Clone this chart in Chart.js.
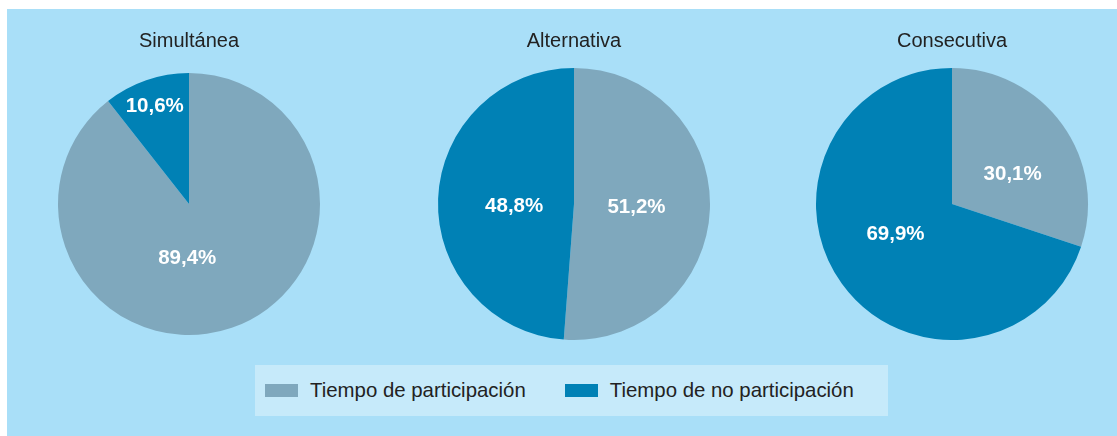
<!DOCTYPE html>
<html lang="es">
<head>
<meta charset="utf-8">
<script src="https://cdn.jsdelivr.net/npm/chart.js@4.4.1/dist/chart.umd.min.js"></script>
<style>
  body { margin: 0; width: 1117px; height: 436px; background: #fff; position: relative; overflow: hidden; font-family: "Liberation Sans", Arial, sans-serif; }
  #panel { position: absolute; left: 7px; top: 9px; width: 1110px; height: 427px; background: #a9dff8; }
  .pie { position: absolute; top: 20px; width: 300px; height: 320px; }
  #legend { position: absolute; left: 255px; top: 365px; width: 633px; height: 51px; background: #c6eafa;
            display: flex; align-items: center; font-size: 20.4px; color: #222; }
  .item { display: flex; align-items: center; }
  .swatch { width: 33px; height: 13px; margin-right: 12px; }
</style>
</head>
<body>
<div id="panel"></div>
<div class="pie" style="left:39px"><canvas id="pie0" width="300" height="320"></canvas></div>
<div class="pie" style="left:424px"><canvas id="pie1" width="300" height="320"></canvas></div>
<div class="pie" style="left:802px"><canvas id="pie2" width="300" height="320"></canvas></div>
<div id="legend"></div>
<script>
// data
const chartTitles = ['Simultánea', 'Alternativa', 'Consecutiva'];
const seriesLabels = ['Tiempo de participación', 'Tiempo de no participación'];
const simultaneaValues = [89.4, 10.6];
const alternativaValues = [51.2, 48.8];
const consecutivaValues = [30.1, 69.9];

const sliceColors = ['#7fa8bd', '#0081b5'];

// where each value label sits: fraction of radius, extra turn (degrees) from mid angle
const labelSpots = [
    [{ f: 0.41, turn: 21 }, { f: 0.80, turn: 0 }],
    [{ f: 0.46, turn: 0 }, { f: 0.44, turn: -3 }],
    [{ f: 0.50, turn: 9 }, { f: 0.47, turn: 8 }]
];

const fmt = v => v.toFixed(1).replace('.', ',') + '%';

const valueLabels = {
    id: 'valueLabels',
    afterDatasetsDraw(chart, args, opts) {
        const ctx = chart.ctx;
        const meta = chart.getDatasetMeta(0);
        const values = chart.data.datasets[0].data;
        ctx.save();
        ctx.fillStyle = '#fff';
        ctx.font = 'bold 20.5px "Liberation Sans", Arial, sans-serif';
        ctx.textAlign = 'center';
        ctx.textBaseline = 'middle';
        meta.data.forEach((arc, i) => {
            const p = arc.getProps(['x', 'y', 'startAngle', 'endAngle', 'outerRadius'], true);
            const spot = opts.spots[i];
            const a = (p.startAngle + p.endAngle) / 2 + spot.turn * Math.PI / 180;
            const r = p.outerRadius * spot.f;
            ctx.fillText(fmt(values[i]), p.x + Math.cos(a) * r, p.y + Math.sin(a) * r + 1);
        });
        ctx.restore();
    }
};

function makePie(id, title, values, spots, radius) {
    new Chart(document.getElementById(id), {
        type: 'pie',
        data: {
            labels: seriesLabels,
            datasets: [{ data: values, backgroundColor: sliceColors, borderWidth: 0, radius: radius }]
        },
        options: {
            responsive: false,
            animation: false,
            events: [],
            plugins: {
                legend: { display: false },
                tooltip: { enabled: false },
                title: {
                    display: true,
                    text: title,
                    color: '#222',
                    font: { family: '"Liberation Sans", Arial, sans-serif', size: 20, weight: 'normal' },
                    padding: { top: 9, bottom: 15 }
                },
                valueLabels: { spots: spots }
            }
        },
        plugins: [valueLabels]
    });
}

makePie('pie0', chartTitles[0], simultaneaValues, labelSpots[0], 131);
makePie('pie1', chartTitles[1], alternativaValues, labelSpots[1]);
makePie('pie2', chartTitles[2], consecutivaValues, labelSpots[2]);

// legend built from the same labels and colours
const legend = document.getElementById('legend');
seriesLabels.forEach((label, i) => {
    const item = document.createElement('div');
    item.className = 'item';
    item.style.marginLeft = i === 0 ? '10px' : '39px';
    item.innerHTML = '<span class="swatch" style="background:' + sliceColors[i] + '"></span><span>' + label + '</span>';
    legend.appendChild(item);
});
</script>
</body>
</html>
